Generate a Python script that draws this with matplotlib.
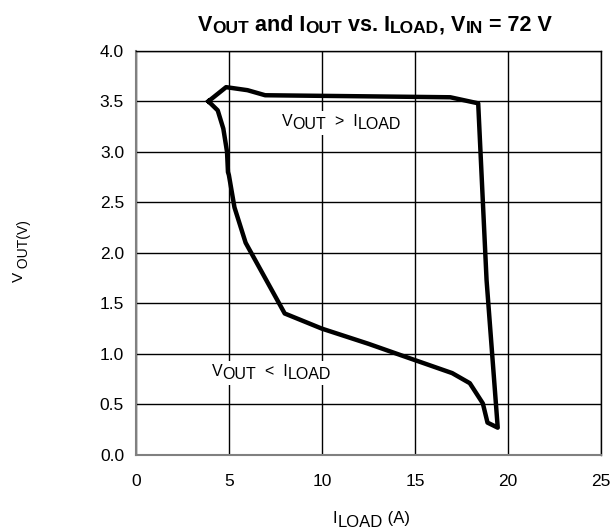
import numpy as np
import matplotlib.pyplot as plt
from matplotlib.patches import Rectangle
from matplotlib.transforms import IdentityTransform, Bbox

plt.rcParams['font.family'] = ['Liberation Sans', 'DejaVu Sans']

# Closed loop of V_OUT against I_LOAD (A, V)
i_load = [3.9, 4.85, 6.0, 6.95, 12.0, 16.9, 18.4, 18.85, 19.45, 18.9, 18.65, 17.95,
          17.0, 14.2, 12.5, 10.0, 8.0, 5.9, 5.3, 5.0, 4.95, 4.9, 4.7, 4.4, 3.9]
v_out = [3.5, 3.64, 3.61, 3.56, 3.55, 3.54, 3.48, 1.73, 0.27, 0.32, 0.51, 0.71,
         0.81, 0.99, 1.1, 1.25, 1.4, 2.1, 2.45, 2.77, 2.8, 3.0, 3.23, 3.41, 3.5]

x_ticks = [0, 5, 10, 15, 20, 25]
y_ticks = [0.0, 0.5, 1.0, 1.5, 2.0, 2.5, 3.0, 3.5, 4.0]

fig = plt.figure(figsize=(6.12, 5.29), dpi=100)
ax = fig.add_axes([0.222, 0.14, 0.76, 0.764])

ax.plot(i_load, v_out, color='black', linewidth=3.2, solid_joinstyle='round')

ax.set_xlim(0, 25)
ax.set_ylim(0, 4)
ax.set_xticks(x_ticks)
ax.set_yticks(y_ticks)
ax.set_yticklabels([f'{v:.1f}' for v in y_ticks])
ax.tick_params(length=0, labelsize=12.5)
ax.tick_params(axis='x', pad=14)
ax.tick_params(axis='y', pad=8.5)
ax.grid(True, color='black', linewidth=1)
ax.set_axisbelow(True)
for side in ['left', 'bottom']:
    ax.spines[side].set_color('#808080')
    ax.spines[side].set_linewidth(1.5)
for side in ['top', 'right']:
    ax.spines[side].set_color('black')
    ax.spines[side].set_linewidth(1)

renderer = fig.canvas.get_renderer()


def advance(s, size, weight):
    # ink width of s followed by a bar, minus the bar alone ~ advance width of s
    a = fig.text(0, 0, s + '|', fontsize=size, fontweight=weight)
    b = fig.text(0, 0, '|', fontsize=size, fontweight=weight)
    w = a.get_window_extent(renderer).width - b.get_window_extent(renderer).width
    a.remove()
    b.remove()
    return w


def rich_text(x, y, parts, transform, rotation=0, weight='normal', boxed=False):
    """Lay out (text, size, drop_px) pieces one after another along a baseline."""
    px, py = transform.transform((x, y))
    texts = []
    for s, size, drop in parts:
        t = fig.text(0, 0, s, fontsize=size, fontweight=weight, ha='left', va='baseline',
                     rotation=rotation, rotation_mode='anchor', transform=IdentityTransform())
        w = advance(s, size, weight)
        if rotation == 90:
            t.set_position((px + drop, py))
            py += w
        else:
            t.set_position((px, py - drop))
            px += w
        texts.append(t)
    if boxed:
        bb = Bbox.union([t.get_window_extent(renderer) for t in texts]).padded(3)
        fig.patches.append(Rectangle((bb.x0, bb.y0), bb.width, bb.height, facecolor='white',
                                     edgecolor='none', transform=IdentityTransform(),
                                     zorder=2.5, figure=fig))


rich_text(0.3235, 0.9414,
          [('V', 15.5, 0), ('OUT', 12.5, 2), (' and I', 15.5, 0), ('OUT', 12.5, 2),
           (' vs. I', 15.5, 0), ('LOAD', 12.5, 2), (', V', 15.5, 0), ('IN', 12.5, 2),
           (' = 72 V', 15.5, 0)],
          fig.transFigure, weight='bold')

rich_text(7.85, 3.257,
          [('V', 11.5, 0), ('OUT', 11.5, 3), ('  >  I', 11.5, 0), ('LOAD', 11.5, 3)],
          ax.transData, boxed=True)
rich_text(4.09, 0.784,
          [('V', 11.5, 0), ('OUT', 11.5, 3), ('  <  I', 11.5, 0), ('LOAD', 11.5, 3)],
          ax.transData, boxed=True)

rich_text(0.544, 0.0113, [('I', 12, 0), ('LOAD', 12, 4), (' (A)', 12, 0)], fig.transFigure)
rich_text(0.0376, 0.467, [('V', 11, 0), (' OUT(V)', 10, 5)], fig.transFigure, rotation=90)

fig.savefig('out.png', dpi=100)
